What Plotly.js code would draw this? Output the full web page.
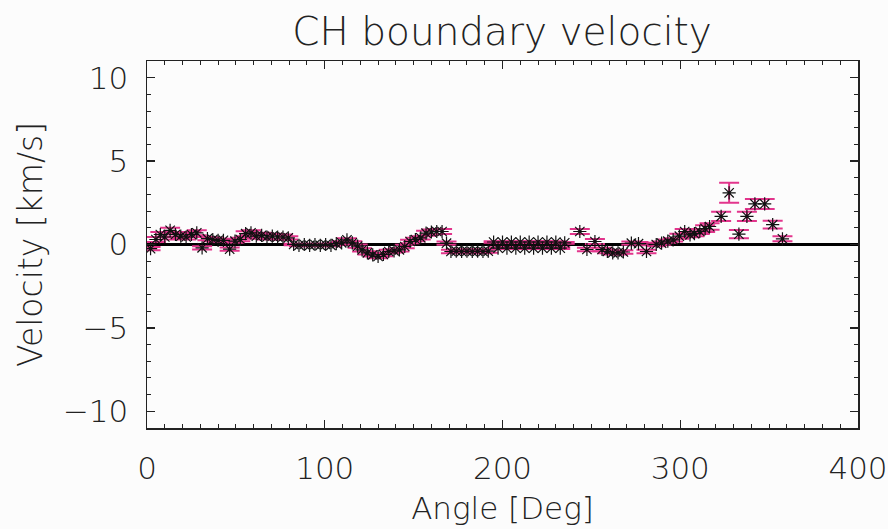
<!DOCTYPE html>
<html>
<head>
<meta charset="utf-8">
<script src="https://cdn.plot.ly/plotly-3.0.1.min.js"></script>
<style>html,body{margin:0;padding:0;background:#fcfcfc;}#chart{width:888px;height:529px;}</style>
</head>
<body>
<div id="chart"></div>
<script>
// Angle of CH boundary point [deg]
const angles = [
  2, 5, 7.5, 10, 13, 16, 19, 22, 25, 28,
  31, 34, 37, 40, 43, 46.5, 49.5, 52.5, 55.5, 58.5,
  61.5, 64.5, 67.5, 70.5, 73.5, 76.5, 79.5, 82.5, 85.5, 88.5,
  91.5, 94.5, 97.5, 100.5, 103.5, 106.5, 109.5, 112.5, 115.5, 118.5,
  121, 124, 127, 130, 133, 136, 139, 142, 145, 148,
  151, 154, 157, 160, 163, 166, 168.5, 171, 174, 177,
  180, 183, 186, 189, 192, 195, 197.5, 200, 202.5, 205,
  207.5, 210, 212.5, 215, 217.5, 220, 222.5, 225, 227.5, 230,
  232.5, 235, 243.5, 247.5, 252, 256, 259, 262, 265, 268,
  272.5, 276.5, 281, 286.5, 289.5, 293, 296, 299.5, 302.5, 305.5,
  308, 311, 314, 316.5, 323, 327.5, 333, 337.5, 342, 347.5,
  352, 357.5
];
// Velocity [km/s]
const velocity = [
  -0.25, 0.3, 0.6, 0.45, 0.85, 0.6, 0.5, 0.45, 0.6, 0.7,
  -0.2, 0.35, 0.3, 0.25, 0.25, -0.28, 0.2, 0.3, 0.65, 0.7,
  0.5, 0.55, 0.45, 0.5, 0.45, 0.45, 0.4, 0.0, -0.05, 0.0,
  -0.05, 0.0, -0.05, 0.0, -0.05, 0.05, 0.1, 0.28, 0.1, -0.1,
  -0.32, -0.5, -0.62, -0.72, -0.6, -0.42, -0.38, -0.32, -0.12, 0.18,
  0.3, 0.4, 0.68, 0.75, 0.78, 0.78, 0.08, -0.42, -0.4, -0.42,
  -0.4, -0.42, -0.4, -0.42, -0.4, 0.15, -0.22, 0.15, -0.22, 0.15,
  -0.22, 0.15, -0.22, 0.15, -0.22, 0.15, -0.22, 0.15, -0.22, 0.15,
  -0.22, 0.1, 0.78, -0.3, 0.18, -0.3, -0.42, -0.5, -0.5, -0.45,
  0.08, 0.05, -0.42, 0.0, 0.08, 0.2, 0.28, 0.5, 0.78, 0.58,
  0.65, 0.78, 0.95, 1.08, 1.69, 3.1, 0.62, 1.69, 2.43, 2.43,
  1.19, 0.34
];
// Velocity uncertainty [km/s]
const velocityErr = [
  0.1, 0.15, 0.15, 0.15, 0.15, 0.15, 0.15, 0.15, 0.15, 0.15,
  0.1, 0.1, 0.1, 0.1, 0.1, 0.1, 0.1, 0.1, 0.15, 0.15,
  0.15, 0.15, 0.15, 0.15, 0.15, 0.15, 0.1, 0.05, 0.05, 0.05,
  0.05, 0.05, 0.05, 0.05, 0.05, 0.05, 0.1, 0.1, 0.1, 0.1,
  0.1, 0.1, 0.1, 0.1, 0.1, 0.1, 0.1, 0.1, 0.1, 0.1,
  0.1, 0.1, 0.15, 0.15, 0.15, 0.15, 0.1, 0.1, 0.1, 0.1,
  0.1, 0.1, 0.1, 0.1, 0.1, 0.05, 0.05, 0.05, 0.05, 0.05,
  0.05, 0.05, 0.05, 0.05, 0.05, 0.05, 0.05, 0.05, 0.05, 0.05,
  0.05, 0.05, 0.15, 0.1, 0.15, 0.1, 0.1, 0.1, 0.1, 0.1,
  0.1, 0.1, 0.1, 0.1, 0.1, 0.1, 0.1, 0.15, 0.15, 0.15,
  0.15, 0.15, 0.2, 0.2, 0.28, 0.6, 0.25, 0.28, 0.3, 0.3,
  0.23, 0.15
];
const xTickVals = [0, 100, 200, 300, 400];
const yTickVals = [-10, -5, 0, 5, 10];

const txt = {family: 'DejaVu Sans', size: 31, color: '#222', weight: 200};

const trace = {
  x: angles, y: velocity, type: 'scatter', mode: 'markers',
  marker: {symbol: 'asterisk-open', size: 11, color: '#111', line: {color: '#111', width: 1.2}},
  error_y: {type: 'data', array: velocityErr, visible: true, color: '#e2358c', thickness: 2, width: 10},
  hoverinfo: 'x+y'
};

const layout = {
  width: 888, height: 529,
  paper_bgcolor: '#fcfcfc', plot_bgcolor: '#fcfcfc',
  margin: {l: 147, r: 30, t: 61, b: 101},
  showlegend: false,
  font: txt,
  title: {text: 'CH boundary velocity', font: {family: 'DejaVu Sans', size: 39, color: '#222', weight: 200},
          x: 0.5655, xref: 'container', xanchor: 'center', y: 0.94, yref: 'container', yanchor: 'middle'},
  xaxis: {
    range: [0, 400], tickvals: xTickVals, ticktext: xTickVals.map(String),
    ticks: 'inside', ticklen: 8, tickwidth: 1.2, tickcolor: '#222',
    minor: {dtick: 10, ticks: 'inside', ticklen: 4, tickcolor: '#222', tickwidth: 1},
    showline: true, linecolor: '#222', linewidth: 1.5, mirror: 'allticks',
    showgrid: false, zeroline: false,
    ticklabelstandoff: 12, ticklabeloverflow: 'allow', tickfont: txt,
    title: {text: 'Angle [Deg]', font: txt, standoff: 12}
  },
  yaxis: {
    range: [-11, 11], tickvals: yTickVals, ticktext: ['−10', '−5', '0', '5', '10'],
    ticks: 'inside', ticklen: 8, tickwidth: 1.2, tickcolor: '#222',
    minor: {dtick: 1, ticks: 'inside', ticklen: 4, tickcolor: '#222', tickwidth: 1},
    showline: true, linecolor: '#222', linewidth: 1.5, mirror: 'allticks',
    showgrid: false, zeroline: true, zerolinecolor: '#000', zerolinewidth: 3,
    ticklabelstandoff: 11, tickfont: txt,
    title: {text: 'Velocity [km/s]', font: {family: 'DejaVu Sans', size: 33, color: '#222', weight: 200}, standoff: 10}
  }
};

Plotly.newPlot('chart', [trace], layout, {displayModeBar: false, staticPlot: true});
</script>
</body>
</html>
